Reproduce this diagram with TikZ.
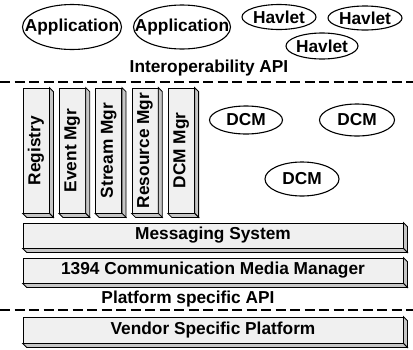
\documentclass[tikz,border=0pt]{standalone}
\usepackage{fontspec}
\setmainfont{Liberation Sans}
\usetikzlibrary{shapes.geometric}

\tikzset{
  lbl/.style={font=\fontsize{17.3}{19}\selectfont\bfseries, inner sep=0pt},
  bubble/.style={ellipse, draw, line width=1.1pt, fill=white, inner sep=0pt},
  slab/.style={lbl, draw, line width=0.8pt, fill=gray!12},
  side/.style={draw, line width=0.8pt, fill=gray!45},
  apiline/.style={line width=1.9pt, dash pattern=on 10pt off 4.5pt}
}

\begin{document}
\begin{tikzpicture}[x=1pt, y=-1pt]
\useasboundingbox (0,0) rectangle (413,349);

% applications and havlets
\node[bubble, minimum width=99, minimum height=45, label={[lbl]center:Application}] (app1) at (72,27) {};
\node[bubble, minimum width=97, minimum height=44, label={[lbl]center:Application}] (app2) at (182,27) {};
\node[bubble, minimum width=74, minimum height=25, label={[lbl]center:Havlet}] (hav1) at (279,17) {};
\node[bubble, minimum width=74, minimum height=24, label={[lbl]center:Havlet}] (hav2) at (365,18) {};
\node[bubble, minimum width=72, minimum height=26, label={[lbl]center:Havlet}] (hav3) at (322,46) {};

\node[lbl] (interop) at (209,68) {Interoperability API};
\draw[apiline] (0,82) -- (413,82);

% managers
\foreach \i/\t in {0/Registry,1/Event Mgr,2/Stream Mgr,3/Resource Mgr,4/DCM Mgr}{
  \node[slab, minimum width=26, minimum height=125] (mgr\i) at (36+36.3*\i,150.5) {};
  \node[lbl, rotate=90] at (mgr\i) {\t};
}

% device control modules
\node[bubble, minimum width=73, minimum height=28, label={[lbl]center:DCM}] (dcm1) at (246,120) {};
\node[bubble, minimum width=75, minimum height=32, label={[lbl]center:DCM}] (dcm2) at (357,120) {};
\node[bubble, minimum width=74, minimum height=34, label={[lbl]center:DCM}] (dcm3) at (302,179) {};

% layers
\node[slab, minimum width=380, minimum height=25] (msg) at (213,235.5) {Messaging System};
\node[slab, minimum width=380, minimum height=25] (cmm) at (213,270.5) {1394 Communication Media Manager};

\node[lbl] (platapi) at (188,299) {Platform specific API};
\draw[apiline] (0,310) -- (413,310);

\node[slab, minimum width=380, minimum height=26] (vendor) at (213,330) {Vendor Specific Platform};

% depth of the slabs
\foreach \n in {mgr0,mgr1,mgr2,mgr3,mgr4,msg,cmm,vendor}{
  \filldraw[side] (\n.north east) -- ++(4,4) -- ([shift={(4,4)}]\n.south east) -- (\n.south east) -- cycle;
  \filldraw[side] (\n.south west) -- ++(4,4) -- ([shift={(4,4)}]\n.south east) -- (\n.south east) -- cycle;
}

\end{tikzpicture}
\end{document}
